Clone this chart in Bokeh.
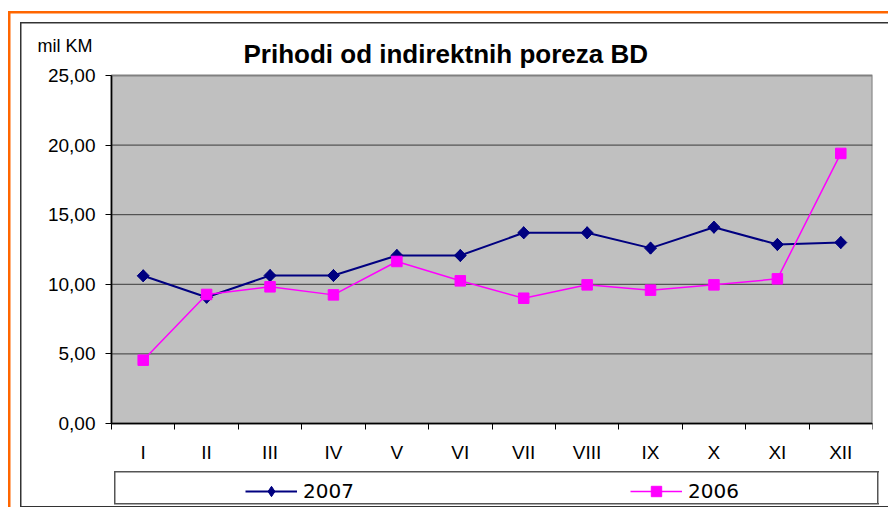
import math
from bokeh.plotting import figure
from bokeh.models import Range1d, FixedTicker, Legend, LegendItem, Label
from bokeh.embed import file_html
from bokeh.resources import INLINE

months = ["I", "II", "III", "IV", "V", "VI", "VII", "VIII", "IX", "X", "XI", "XII"]
y2007 = [10.61, 9.07, 10.63, 10.63, 12.07, 12.07, 13.70, 13.70, 12.60, 14.10, 12.86, 13.00]
y2006 = [4.55, 9.27, 9.82, 9.24, 11.64, 10.25, 9.00, 9.96, 9.58, 9.96, 10.39, 19.40]
y_ticks = [0, 5, 10, 15, 20, 25]
y_tick_labels = ["0,00", "5,00", "10,00", "15,00", "20,00", "25,00"]
title_text = "Prihodi od indirektnih poreza BD"
unit_text = "mil KM"
series_names = ["2007", "2006"]

n = len(months)
xs = [i + 0.5 for i in range(n)]

# canvas / layout (pixels)
W, H = 888, 507
FRAME_L, FRAME_R, FRAME_T, FRAME_B = 20, 872, 24, 507
PLOT_L, PLOT_T, PLOT_B = 111, 75, 423
ymax = y_ticks[-1]
ppx = (FRAME_R - PLOT_L) / n
ppy = (PLOT_B - PLOT_T) / ymax


def css_line(color, x, y, w, h):
    return f"linear-gradient({color},{color}) {x}px {y}px / {w}px {h}px no-repeat"


frame_lines = ", ".join([
    css_line("#FF6600", 8, 11, 2.5, 504),
    css_line("#FF6600", 8, 11, 888, 2.5),
    css_line("#333333", 19.5, 22, 1.5, 489),
    css_line("#333333", 19.5, 22, 877, 1.5),
    css_line("#333333", 19.5, 505.5, 877, 1.5),
    css_line("#555555", 113.5, 471, 765, 1.5),
    css_line("#555555", 113.5, 502.5, 765, 1.5),
    css_line("#555555", 113.5, 471, 1.5, 33),
    css_line("#555555", 877, 471, 1.5, 33),
])

p = figure(width=W, height=H, output_backend="svg", toolbar_location=None,
           x_range=Range1d(-(PLOT_L - FRAME_L) / ppx, n),
           y_range=Range1d(-(FRAME_B - PLOT_B) / ppy, ymax + (PLOT_T - FRAME_T) / ppy),
           min_border_left=FRAME_L, min_border_right=W - FRAME_R,
           min_border_top=FRAME_T, min_border_bottom=H - FRAME_B,
           styles={"background": frame_lines + ", white"})
p.title.visible = False
p.background_fill_color = None
p.border_fill_color = None
p.outline_line_color = None
p.xgrid.grid_line_color = None
p.ygrid.grid_line_color = None

# plot area (grey) and horizontal grid lines
p.quad(left=[0], right=[n], bottom=[0], top=[ymax], fill_color="#C0C0C0",
       line_color="#808080", line_width=2, level="image")
p.segment(x0=[0] * (len(y_ticks) - 1), x1=[n] * (len(y_ticks) - 1),
          y0=y_ticks[:-1], y1=y_ticks[:-1], line_color="#3a3a3a", line_width=1)

# x axis: labels at category centres, tick marks at boundaries
xa = p.xaxis[0]
xa.fixed_location = 0
xa.bounds = (0, n)
xa.ticker = FixedTicker(ticks=xs, minor_ticks=list(range(n + 1)))
xa.major_label_overrides = {x: m for x, m in zip(xs, months)}
xa.major_tick_line_color = None
xa.major_tick_out = 6
xa.major_tick_in = 0
xa.minor_tick_line_color = "black"
xa.minor_tick_out = 6
xa.minor_tick_in = 0
xa.axis_line_color = "black"
xa.axis_line_width = 1.5
xa.major_label_text_font = "Liberation Sans"
xa.major_label_text_font_size = "19px"
xa.major_label_text_color = "black"
xa.major_label_standoff = 12

ya = p.yaxis[0]
ya.fixed_location = 0
ya.bounds = (0, ymax)
ya.ticker = FixedTicker(ticks=y_ticks, minor_ticks=[])
ya.major_label_overrides = {t: l for t, l in zip(y_ticks, y_tick_labels)}
ya.major_tick_out = 6
ya.major_tick_in = 0
ya.major_tick_line_color = "black"
ya.axis_line_color = "black"
ya.axis_line_width = 1.5
ya.major_label_text_font = "Liberation Sans"
ya.major_label_text_font_size = "19px"
ya.major_label_text_color = "black"
ya.major_label_standoff = 10

# series
l07 = p.line(xs, y2007, line_color="#000080", line_width=2)
# diamond markers (also used as the legend sample), covered by the rotated squares
k07 = p.scatter(xs, y2007, marker="diamond", size=12,
                fill_color="#000080", line_color="#000080")
m07 = p.scatter(xs, y2007, marker="square", size=8.5, angle=math.pi / 4,
                fill_color="#000080", line_color="#000080")
l06 = p.line(xs, y2006, line_color="#FF00FF", line_width=1.5)
m06 = p.scatter(xs, y2006, marker="square", size=10.5,
                fill_color="#FF00FF", line_color="#FF00FF")

legend = Legend(items=[LegendItem(label=series_names[0], renderers=[l07, k07]),
                       LegendItem(label=series_names[1], renderers=[l06, m06])],
                orientation="horizontal", location=(245 - FRAME_L, 3),
                padding=5, spacing=276, glyph_width=52, glyph_height=26,
                label_standoff=6, label_width=51, label_height=22,
                label_text_font="DejaVu Sans", label_text_font_size="20px",
                label_text_color="black",
                border_line_color=None, background_fill_alpha=0, margin=0)
p.add_layout(legend, "center")

p.add_layout(Label(x=243 - FRAME_L, y=FRAME_B - 53, x_units="screen", y_units="screen",
                   text=title_text, text_font="Liberation Sans", text_font_style="bold",
                   text_font_size="26px", text_baseline="alphabetic", text_color="black"))
p.add_layout(Label(x=37 - FRAME_L, y=FRAME_B - 45, x_units="screen", y_units="screen",
                   text=unit_text, text_font="Liberation Sans", text_font_size="18px",
                   text_baseline="alphabetic", text_color="black"))

open("out.html", "w").write(file_html(p, INLINE))
